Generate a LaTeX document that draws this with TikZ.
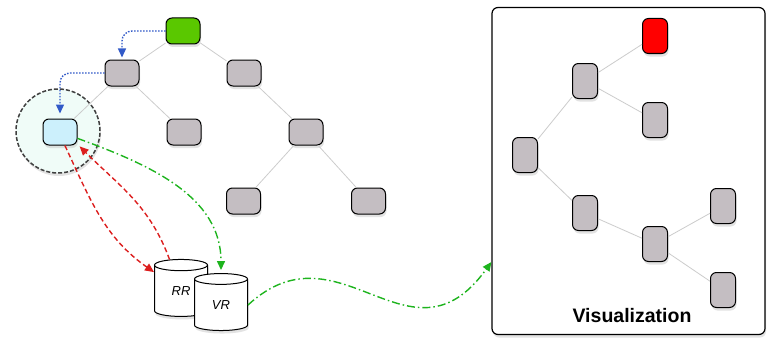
\documentclass[tikz,border=0pt]{standalone}
\usepackage{fontspec}
\setsansfont{Liberation Sans}
\usetikzlibrary{arrows.meta,positioning,calc,trees,shapes.geometric,shadows}
\definecolor{nodegray}{RGB}{196,190,194}
\definecolor{rootgreen}{RGB}{90,200,0}
\definecolor{curcyan}{RGB}{204,240,252}
\definecolor{lensfill}{RGB}{240,252,248}
\definecolor{bluearr}{RGB}{50,90,200}
\definecolor{redarr}{RGB}{220,30,30}
\definecolor{greenarr}{RGB}{30,180,30}

\begin{document}
\begin{tikzpicture}[x=1pt,y=1pt,
				soft/.style={drop shadow={fill=black!22, shadow xshift=1pt, shadow yshift=-3pt}},
				tnode/.style={draw=black, line width=1pt, fill=nodegray, rectangle, rounded corners=6pt,
					minimum width=34pt, minimum height=26pt, inner sep=0pt, soft},
				vnode/.style={draw, line width=1pt, fill=nodegray, rectangle, rounded corners=6pt,
					minimum width=25pt, minimum height=35pt, inner sep=0pt, soft},
				dbcyl/.style={draw, line width=1pt, fill=white, cylinder, shape border rotate=90,
					aspect=0.6, minimum width=53pt, minimum height=57pt, inner sep=0pt, soft,
					font=\sffamily\itshape\fontsize{13}{15}\selectfont},
				treeedge/.style={draw=gray!40, line width=0.8pt},
				edge from parent/.style={treeedge},
				tip/.style={-{Triangle[length=9pt,width=8pt]}},
				bluedot/.style={tip, bluearr, line width=1.4pt, dash pattern=on 1.5pt off 1.5pt},
				reddash/.style={tip, redarr, line width=1.4pt, dash pattern=on 5pt off 3pt},
				greendash/.style={tip, greenarr, line width=1.4pt, dash pattern=on 8pt off 3pt on 1.5pt off 3pt},
				level 1/.style={level distance=42pt, sibling distance=122pt},
				level 2/.style={level distance=59pt, sibling distance=124pt},
				level 3/.style={level distance=69pt, sibling distance=125pt}]
			\useasboundingbox (0,0) rectangle (767,-345);

			% focus lens
			\node[circle, draw=black!75, dash pattern=on 4pt off 2pt, line width=1.5pt, fill=lensfill, minimum size=84pt, soft] (lens) at (58,-131) {};

			% data tree
			\node[tnode, fill=rootgreen] (root) at (183,-31) {}
			child { node[tnode] (la) {}
					child { node[tnode, fill=curcyan] (cur) {}}
					child { node[tnode] (lb) {}} }
			child { node[tnode] (ra) {}
					child[missing]
					child { node[tnode] (rb) {}
							child { node[tnode] (rc) {}}
							child { node[tnode] (rd) {}} } };

			% stores
			\node[dbcyl] (rr) at (181,-291) {RR};
			\node[dbcyl] (vr) at (221,-305) {VR};

			% visualization panel
			\node[draw, line width=1.2pt, rounded corners=6pt, fill=white, minimum width=273pt,
				minimum height=327pt, soft] (vis) at (628.5,-171) {};
			\node[font=\sffamily\bfseries\fontsize{19.5}{22}\selectfont, anchor=base] (vislabel) at (632,-322) {Visualization};
			\node[vnode] (v0) at (525,-155) {};
			\node[vnode] (v1) at (585,-81) {};
			\node[vnode, fill=red] (v2) at (655,-36) {};
			\node[vnode] (v3) at (655,-120) {};
			\node[vnode] (v4) at (585,-213) {};
			\node[vnode] (v5) at (655,-244) {};
			\node[vnode] (v6) at (723,-206) {};
			\node[vnode] (v7) at (723,-290) {};
			\foreach \a/\b in {v1/v2, v1/v3, v0/v1, v0/v4, v4/v5, v5/v6, v5/v7}
				\draw[treeedge] (\a) -- (\b);

			% traversal
			\draw[bluedot, rounded corners=10pt, shorten >=2pt] (root.west) -| (la.north);
			\draw[bluedot, rounded corners=10pt, shorten >=5pt] (la.west) -| (cur.north);
			\draw[reddash] (cur.-70) to[out=-65, in=145] (rr.145);
			\draw[reddash, shorten >=3pt] (rr.110) to[out=110, in=-45] (cur.-35);
			\draw[greendash, shorten >=3pt] (cur.-20) to[out=-20, in=90] (vr.north);
			\draw[greendash] (vr.east) .. controls (340,-220) and (410,-375) .. ([yshift=-91pt]vis.west);
		\end{tikzpicture}
\end{document}
